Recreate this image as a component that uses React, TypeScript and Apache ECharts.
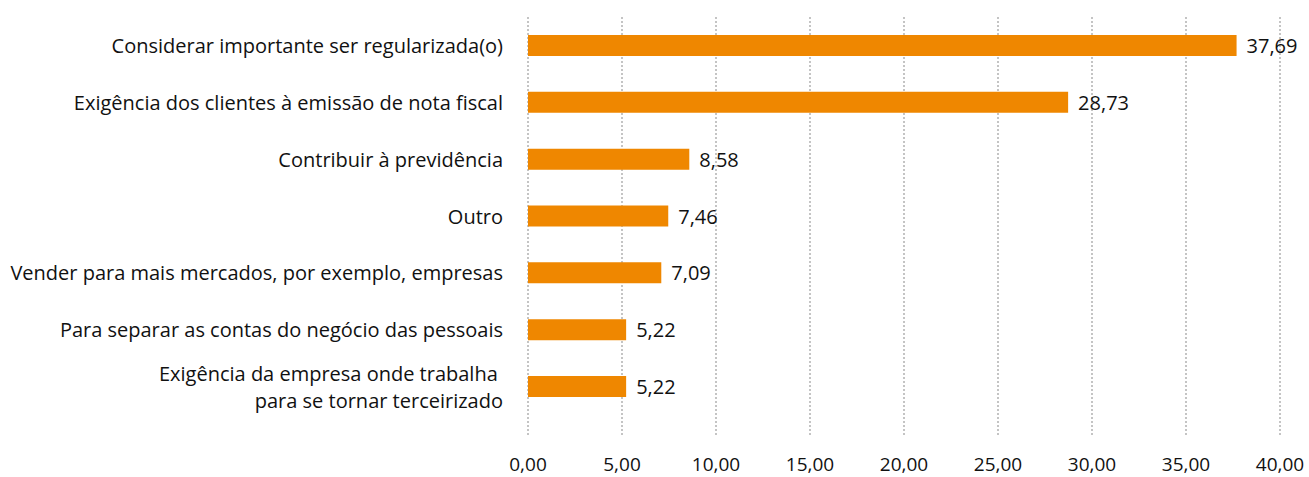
import React, { useEffect, useRef } from "react";
import * as echarts from "echarts";

const categories = [
  "Considerar importante ser regularizada(o)",
  "Exigência dos clientes à emissão de nota fiscal",
  "Contribuir à previdência",
  "Outro",
  "Vender para mais mercados, por exemplo, empresas",
  "Para separar as contas do negócio das pessoais",
  "Exigência da empresa onde trabalha \npara se tornar terceirizado",
];
const values = [37.69, 28.73, 8.58, 7.46, 7.09, 5.22, 5.22];
const axisMin = 0;
const axisMax = 40;
const axisStep = 5;

const fmt = (v: number) => v.toFixed(2).replace(".", ",");
const FONT = "'Open Sans', sans-serif";

export default function App() {
  const ref = useRef<HTMLDivElement>(null);
  useEffect(() => {
    if (!ref.current) return;
    const chart = echarts.init(ref.current, undefined, { renderer: "svg" });
    chart.setOption({
      animation: false,
      backgroundColor: "#ffffff",
      grid: [
        { left: 528, right: 29, top: 17, height: 398 },
        { left: 528, right: 29, top: 17, bottom: 42 },
      ],
      xAxis: [
        {
          gridIndex: 0,
          type: "value",
          min: axisMin,
          max: axisMax,
          interval: axisStep,
          show: false,
        },
        {
          gridIndex: 1,
          type: "value",
          min: axisMin,
          max: axisMax,
          interval: axisStep,
          axisLine: { show: false },
          axisTick: { show: false },
          axisLabel: {
            formatter: (v: number) => fmt(v),
            color: "#111",
            fontFamily: FONT,
            fontSize: 19,
            margin: 19,
          },
          splitLine: {
            show: true,
            lineStyle: { color: "#c4c4c4", width: 2, type: [2, 2] },
          },
        },
      ],
      yAxis: [
        {
          gridIndex: 0,
          type: "category",
          data: categories,
          inverse: true,
          axisLine: { show: false },
          axisTick: { show: false },
          splitLine: { show: false },
          axisLabel: {
            color: "#111",
            fontFamily: FONT,
            fontSize: 20,
            margin: 25,
            lineHeight: 27,
            align: "right",
          },
        },
        { gridIndex: 1, type: "value", show: false, min: 0, max: 1 },
      ],
      series: [
        {
          type: "bar",
          xAxisIndex: 0,
          yAxisIndex: 0,
          data: values,
          barWidth: 21,
          itemStyle: { color: "#EF8700" },
          label: {
            show: true,
            position: "right",
            distance: 10,
            formatter: (p: any) => fmt(p.value),
            color: "#111",
            fontFamily: FONT,
            fontSize: 20,
          },
        },
      ],
    });
    return () => chart.dispose();
  }, []);
  return (
    <div
      ref={ref}
      style={{ position: "fixed", left: 0, top: 0, width: 1309, height: 477 }}
    />
  );
}
